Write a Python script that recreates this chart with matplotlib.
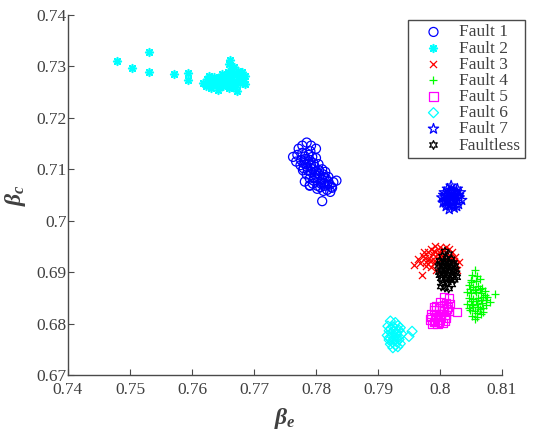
import matplotlib
matplotlib.use("Agg")
import matplotlib.pyplot as plt

plt.rcParams["font.family"] = ["Liberation Serif", "DejaVu Serif"]
plt.rcParams["mathtext.fontset"] = "custom"
plt.rcParams["mathtext.it"] = "Liberation Serif:italic:bold"
plt.rcParams["mathtext.rm"] = "Liberation Serif:bold"

TEXT = "#404040"
AXIS = "#4a4a4a"

# ---- data (beta_e, beta_c) ----
fault1_x = [0.7763, 0.7768, 0.7772, 0.7778, 0.7785, 0.7792, 0.7800, 0.7778, 0.7770,
            0.7782, 0.7788, 0.7790, 0.7776, 0.7784, 0.7792, 0.7796, 0.7780, 0.7787,
            0.7795, 0.7800, 0.7805, 0.7798, 0.7806, 0.7812, 0.7802, 0.7810, 0.7816,
            0.7820, 0.7808, 0.7814, 0.7822, 0.7828, 0.7833, 0.7826, 0.7818, 0.7795,
            0.7790, 0.7802, 0.7812, 0.7823, 0.7783, 0.7791, 0.7800, 0.7798, 0.7804,
            0.7810, 0.7815, 0.7810,
            0.7775, 0.7780, 0.7786, 0.7792, 0.7797, 0.7803, 0.7808, 0.7813, 0.7818,
            0.7785, 0.7790, 0.7796, 0.7802, 0.7807, 0.7812, 0.7820, 0.7825, 0.7779,
            0.7788, 0.7794, 0.7790, 0.7782]
fault1_y = [0.7124, 0.7115, 0.7140, 0.7146, 0.7152, 0.7146, 0.7140, 0.7132, 0.7128,
            0.7125, 0.7128, 0.7118, 0.7118, 0.7110, 0.7108, 0.7112, 0.7102, 0.7098,
            0.7100, 0.7096, 0.7098, 0.7090, 0.7088, 0.7090, 0.7082, 0.7080, 0.7082,
            0.7076, 0.7072, 0.7068, 0.7070, 0.7075, 0.7078, 0.7064, 0.7060, 0.7072,
            0.7068, 0.7062, 0.7058, 0.7056, 0.7120, 0.7135, 0.7122, 0.7105, 0.7110,
            0.7100, 0.7095, 0.7038,
            0.7108, 0.7112, 0.7104, 0.7095, 0.7085, 0.7092, 0.7075, 0.7085, 0.7070,
            0.7090, 0.7082, 0.7078, 0.7068, 0.7065, 0.7072, 0.7085, 0.7066, 0.7098,
            0.7115, 0.7124, 0.7069, 0.7076]

fault2_x = [0.7479, 0.7503, 0.7531, 0.7531, 0.7571, 0.7594, 0.7594,
            0.7618, 0.7622, 0.7625, 0.7630, 0.7632, 0.7636, 0.7640, 0.7642, 0.7645,
            0.7648, 0.7650, 0.7652, 0.7655, 0.7658, 0.7660, 0.7662, 0.7664, 0.7666,
            0.7668, 0.7670, 0.7672, 0.7675, 0.7678, 0.7680, 0.7683, 0.7685, 0.7672,
            0.7660, 0.7638, 0.7628, 0.7655, 0.7647, 0.7664, 0.7686,
            0.7635, 0.7644, 0.7653, 0.7661, 0.7669, 0.7677, 0.7640, 0.7650, 0.7658,
            0.7666, 0.7674, 0.7682]
fault2_y = [0.7311, 0.7297, 0.7328, 0.7289, 0.7285, 0.7287, 0.7274,
            0.7268, 0.7262, 0.7275, 0.7258, 0.7270, 0.7280, 0.7265, 0.7255, 0.7272,
            0.7285, 0.7262, 0.7276, 0.7268, 0.7290, 0.7305, 0.7312, 0.7280, 0.7270,
            0.7298, 0.7260, 0.7285, 0.7275, 0.7268, 0.7290, 0.7278, 0.7265, 0.7252,
            0.7258, 0.7272, 0.7282, 0.7282, 0.7278, 0.7295, 0.7282,
            0.7268, 0.7260, 0.7270, 0.7275, 0.7265, 0.7280, 0.7276, 0.7268, 0.7262,
            0.7285, 0.7292, 0.7272]

fault3_x = [0.7958, 0.7971, 0.7965, 0.7972, 0.7978, 0.7975, 0.7982, 0.7985, 0.7988,
            0.7990, 0.7992, 0.7995, 0.7998, 0.8000, 0.8003, 0.8006, 0.8008, 0.8012,
            0.8015, 0.8018, 0.8022, 0.8026, 0.8028, 0.7985, 0.7993, 0.8000, 0.7980,
            0.7968, 0.7976, 0.7984, 0.7990, 0.7996, 0.8004, 0.8010, 0.8020, 0.8024,
            0.7978, 0.7988, 0.8030]
fault3_y = [0.6914, 0.6894, 0.6925, 0.6932, 0.6920, 0.6940, 0.6928, 0.6945, 0.6935,
            0.6918, 0.6950, 0.6928, 0.6940, 0.6948, 0.6932, 0.6944, 0.6925, 0.6938,
            0.6945, 0.6930, 0.6922, 0.6915, 0.6905, 0.6910, 0.6905, 0.6912, 0.6940,
            0.6918, 0.6928, 0.6922, 0.6942, 0.6935, 0.6940, 0.6948, 0.6940, 0.6930,
            0.6912, 0.6925, 0.6920]

fault4_x = [0.8056, 0.8052, 0.8060, 0.8050, 0.8058, 0.8064, 0.8046, 0.8054, 0.8062,
            0.8068, 0.8044, 0.8050, 0.8058, 0.8066, 0.8072, 0.8046, 0.8054, 0.8062,
            0.8070, 0.8075, 0.8044, 0.8052, 0.8060, 0.8068, 0.8048, 0.8056, 0.8064,
            0.8070, 0.8052, 0.8060, 0.8066, 0.8056, 0.8088, 0.8080,
            0.8048, 0.8056, 0.8064, 0.8072, 0.8050, 0.8058, 0.8066, 0.8074, 0.8054,
            0.8062, 0.8070, 0.8046, 0.8076, 0.8060, 0.8050]
fault4_y = [0.6905, 0.6895, 0.6892, 0.6885, 0.6882, 0.6886, 0.6875, 0.6872, 0.6874,
            0.6870, 0.6862, 0.6860, 0.6862, 0.6860, 0.6864, 0.6850, 0.6848, 0.6850,
            0.6852, 0.6845, 0.6838, 0.6836, 0.6838, 0.6840, 0.6826, 0.6825, 0.6828,
            0.6830, 0.6815, 0.6812, 0.6818, 0.6808, 0.6858, 0.6842,
            0.6868, 0.6866, 0.6868, 0.6856, 0.6843, 0.6844, 0.6846, 0.6836, 0.6832,
            0.6832, 0.6822, 0.6830, 0.6852, 0.6820, 0.6880]

fault5_x = [0.8006, 0.8014, 0.8000, 0.8010, 0.7994, 0.8004, 0.8013, 0.7990, 0.7998,
            0.8006, 0.8014, 0.7986, 0.7994, 0.8002, 0.8010, 0.7984, 0.7992, 0.8000,
            0.8008, 0.7988, 0.7996, 0.8004, 0.8027, 0.8016,
            0.7990, 0.7998, 0.8006, 0.8012, 0.7986, 0.7994, 0.8002, 0.8010, 0.7990,
            0.7998]
fault5_y = [0.6852, 0.6850, 0.6842, 0.6840, 0.6835, 0.6834, 0.6832, 0.6826, 0.6826,
            0.6825, 0.6824, 0.6818, 0.6816, 0.6818, 0.6816, 0.6808, 0.6806, 0.6808,
            0.6806, 0.6800, 0.6799, 0.6801, 0.6823, 0.6838,
            0.6832, 0.6830, 0.6830, 0.6828, 0.6812, 0.6812, 0.6812, 0.6811, 0.6803,
            0.6803]

fault6_x = [0.7920, 0.7928, 0.7916, 0.7924, 0.7932, 0.7918, 0.7926, 0.7934, 0.7915,
            0.7922, 0.7930, 0.7938, 0.7918, 0.7926, 0.7934, 0.7920, 0.7928, 0.7936,
            0.7924, 0.7932, 0.7955, 0.7950,
            0.7920, 0.7928, 0.7936, 0.7922, 0.7930, 0.7918, 0.7926, 0.7934, 0.7924,
            0.7930]
fault6_y = [0.6805, 0.6802, 0.6795, 0.6794, 0.6796, 0.6786, 0.6785, 0.6787, 0.6777,
            0.6776, 0.6778, 0.6780, 0.6768, 0.6767, 0.6769, 0.6760, 0.6758, 0.6761,
            0.6753, 0.6755, 0.6785, 0.6775,
            0.6790, 0.6790, 0.6792, 0.6782, 0.6782, 0.6772, 0.6772, 0.6774, 0.6764,
            0.6765]

fault7_x = [0.8003, 0.8005, 0.8007, 0.8010, 0.8010, 0.8012, 0.8014, 0.8015, 0.8017,
            0.8018, 0.8020, 0.8020, 0.8022, 0.8023, 0.8025, 0.8026, 0.8028, 0.8030,
            0.8031, 0.8033, 0.8035, 0.8016, 0.8008, 0.8027, 0.8013,
            0.8006, 0.8012, 0.8018, 0.8024, 0.8030, 0.8009, 0.8015, 0.8021, 0.8027,
            0.8018]
fault7_y = [0.7045, 0.7035, 0.7055, 0.7028, 0.7048, 0.7062, 0.7040, 0.7022, 0.7052,
            0.7068, 0.7035, 0.7045, 0.7058, 0.7025, 0.7040, 0.7050, 0.7062, 0.7032,
            0.7045, 0.7055, 0.7040, 0.7030, 0.7040, 0.7028, 0.7050,
            0.7050, 0.7042, 0.7038, 0.7048, 0.7050, 0.7035, 0.7058, 0.7030, 0.7056,
            0.7060]

normal_x = [0.8008, 0.8014, 0.8004, 0.8018, 0.8000, 0.8008, 0.8022, 0.7998, 0.8005,
            0.8012, 0.8018, 0.8025, 0.7999, 0.8006, 0.8014, 0.8020, 0.8026, 0.8002,
            0.8010, 0.8017, 0.8023, 0.8004, 0.8012, 0.8019, 0.8008, 0.8014, 0.8002,
            0.8011, 0.8015, 0.8009,
            0.8001, 0.8007, 0.8013, 0.8019, 0.8024, 0.8003, 0.8009, 0.8016, 0.8022,
            0.8006, 0.8012, 0.8020, 0.8000, 0.8027, 0.8010]
normal_y = [0.6940, 0.6935, 0.6930, 0.6925, 0.6922, 0.6920, 0.6918, 0.6912, 0.6910,
            0.6912, 0.6908, 0.6905, 0.6900, 0.6898, 0.6900, 0.6895, 0.6898, 0.6888,
            0.6890, 0.6886, 0.6885, 0.6878, 0.6880, 0.6876, 0.6870, 0.6868, 0.6872,
            0.6926, 0.6916, 0.6904,
            0.6916, 0.6914, 0.6920, 0.6914, 0.6912, 0.6904, 0.6902, 0.6904, 0.6902,
            0.6894, 0.6895, 0.6890, 0.6894, 0.6890, 0.6884]

x_ticks = [0.74, 0.75, 0.76, 0.77, 0.78, 0.79, 0.80, 0.81]
x_labels = ["0.74", "0.75", "0.76", "0.77", "0.78", "0.79", "0.8", "0.81"]
y_ticks = [0.67, 0.68, 0.69, 0.70, 0.71, 0.72, 0.73, 0.74]
y_labels = ["0.67", "0.68", "0.69", "0.7", "0.71", "0.72", "0.73", "0.74"]

series = [
    ("Fault 1", fault1_x, fault1_y, "o", (0, 0, 1), 42),
    ("Fault 2", fault2_x, fault2_y, (8, 2, 0), (0, 1, 1), 30),
    ("Fault 3", fault3_x, fault3_y, "x", (1, 0, 0), 26),
    ("Fault 4", fault4_x, fault4_y, "+", (0, 1, 0), 40),
    ("Fault 5", fault5_x, fault5_y, "s", (1, 0, 1), 34),
    ("Fault 6", fault6_x, fault6_y, "D", (0, 1, 1), 26),
    ("Fault 7", fault7_x, fault7_y, "*", (0, 0, 1), 60),
    ("Faultless", normal_x, normal_y, (6, 1, 0), (0, 0, 0), 40),
]

fig = plt.figure(figsize=(5.5, 4.32), dpi=100)
ax = fig.add_axes([0.1236, 0.1319, 0.7891, 0.8334])

for name, xs, ys, mk, col, size in series:
    if mk in ("x", "+") or name == "Fault 2":
        lw = 1.2 if name == "Fault 2" else 0.9
        ax.scatter(xs, ys, marker=mk, s=size, c=[col], linewidths=lw, label=name)
    else:
        ax.scatter(xs, ys, marker=mk, s=size, facecolors="none", edgecolors=[col],
                   linewidths=0.9, label=name)

ax.set_xlim(0.74, 0.81)
ax.set_ylim(0.67, 0.74)
ax.set_xticks(x_ticks)
ax.set_xticklabels(x_labels)
ax.set_yticks(y_ticks)
ax.set_yticklabels(y_labels)
ax.tick_params(direction="in", length=4, width=0.8, color=AXIS, labelcolor=TEXT,
               labelsize=12.5, pad=1)
ax.tick_params(axis="x", pad=5)
for side in ("top", "right"):
    ax.spines[side].set_visible(False)
for side in ("left", "bottom"):
    ax.spines[side].set_color(AXIS)
    ax.spines[side].set_linewidth(1.0)

ax.set_xlabel(r"$\beta_e$", fontsize=17, color=TEXT, labelpad=6)
ax.set_ylabel(r"$\beta_c$", fontsize=17, color=TEXT, labelpad=6)

leg = ax.legend(loc="upper right", bbox_to_anchor=(525 / 550, 1 - 20 / 432),
                bbox_transform=fig.transFigure, fontsize=12.5, labelspacing=0.0,
                handlelength=2.4, handletextpad=0.25, borderpad=0.25,
                borderaxespad=0, fancybox=False, framealpha=1, scatterpoints=1)
leg.get_frame().set_edgecolor(AXIS)
leg.get_frame().set_linewidth(1.0)
for t in leg.get_texts():
    t.set_color(TEXT)

fig.savefig("out.png", dpi=100)
